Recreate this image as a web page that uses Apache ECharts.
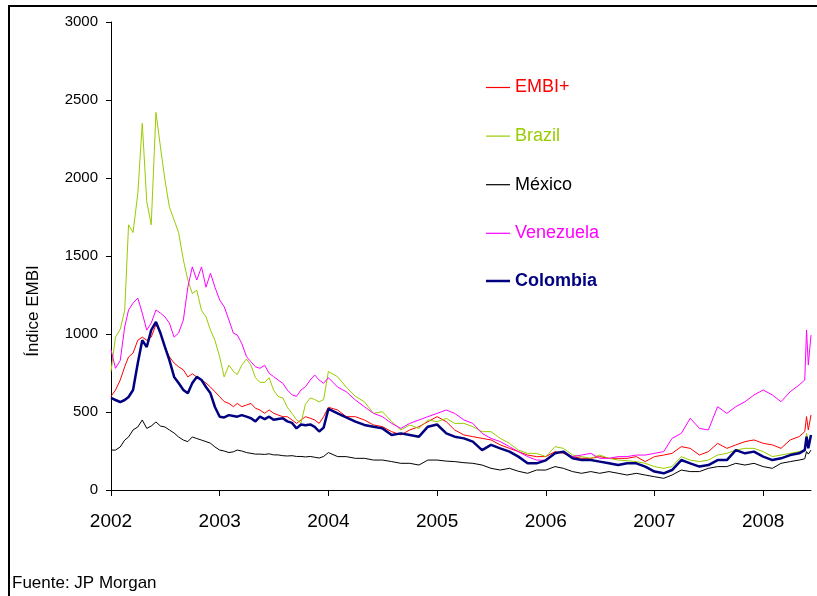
<!DOCTYPE html>
<html>
<head>
<meta charset="utf-8">
<script src="https://cdn.jsdelivr.net/npm/echarts@6/dist/echarts.min.js"></script>
<style>
html,body{margin:0;padding:0;background:#fff;}
#chart{width:817px;height:596px;}
</style>
</head>
<body>
<div id="chart"></div>
<script>
// Dates: half-monthly 2002-2003, monthly 2004-2008, extra points in mid-2008
var dates = [
"2002-01-01","2002-01-16","2002-02-01","2002-02-16","2002-03-01","2002-03-16","2002-04-01","2002-04-16","2002-05-01","2002-05-16","2002-06-01","2002-06-16",
"2002-07-01","2002-07-16","2002-08-01","2002-08-16","2002-09-01","2002-09-16","2002-10-01","2002-10-16","2002-11-01","2002-11-16","2002-12-01","2002-12-16",
"2003-01-01","2003-01-16","2003-02-01","2003-02-16","2003-03-01","2003-03-16","2003-04-01","2003-04-16","2003-05-01","2003-05-16","2003-06-01","2003-06-16",
"2003-07-01","2003-07-16","2003-08-01","2003-08-16","2003-09-01","2003-09-16","2003-10-01","2003-10-16","2003-11-01","2003-11-16","2003-12-01","2003-12-16",
"2004-01-01","2004-02-01","2004-03-01","2004-04-01","2004-05-01","2004-06-01","2004-07-01","2004-08-01","2004-09-01","2004-10-01","2004-11-01","2004-12-01",
"2005-01-01","2005-02-01","2005-03-01","2005-04-01","2005-05-01","2005-06-01","2005-07-01","2005-08-01","2005-09-01","2005-10-01","2005-11-01","2005-12-01",
"2006-01-01","2006-02-01","2006-03-01","2006-04-01","2006-05-01","2006-06-01","2006-07-01","2006-08-01","2006-09-01","2006-10-01","2006-11-01","2006-12-01",
"2007-01-01","2007-02-01","2007-03-01","2007-04-01","2007-05-01","2007-06-01","2007-07-01","2007-08-01","2007-09-01","2007-10-01","2007-11-01","2007-12-01",
"2008-01-01","2008-02-01","2008-03-01","2008-04-01","2008-05-01","2008-05-20","2008-05-26","2008-06-01","2008-06-10"
];

var embi = [
600,640,705,790,853,878,960,980,960,980,1060,1006,917,853,814,790,770,725,745,725,705,686,660,630,
598,567,555,534,555,534,545,555,524,513,492,513,492,481,470,470,449,427,449,470,460,449,427,470,
530,513,470,470,449,417,406,374,353,385,406,438,
470,438,385,353,342,331,321,289,267,246,224,214,
214,246,235,214,203,203,214,203,203,203,214,182,
214,224,235,278,267,224,246,299,267,289,310,321,
299,289,267,321,342,374,470,385,481
];

var brazil = [
760,980,1030,1150,1700,1650,1900,2350,1850,1700,2420,2200,1990,1815,1730,1650,1475,1346,1260,1280,1150,1110,1025,960,
853,725,800,760,740,800,840,800,720,690,690,720,640,600,590,530,490,450,430,550,590,580,565,580,
760,726,660,600,566,491,502,438,385,417,395,449,
438,459,427,427,406,374,374,331,299,256,235,235,
214,278,267,224,214,203,224,203,192,188,182,171,
150,139,150,214,192,182,192,224,235,256,267,267,
246,214,224,235,246,260,363,310,353
];

var mexico = [
256,256,276,320,340,385,404,449,395,410,436,410,404,385,365,340,320,310,340,330,320,310,300,276,
256,250,240,245,256,250,240,235,230,230,228,232,225,225,220,218,220,215,215,212,215,210,205,215,
240,214,214,203,203,192,192,182,171,171,160,192,
192,185,182,175,171,160,139,128,139,120,107,128,
128,150,139,118,107,118,107,118,107,96,107,96,
85,75,96,128,118,118,139,150,150,171,160,171,
150,139,171,182,192,200,246,230,256
];

var venezuela = [
900,780,830,1045,1154,1198,1230,1134,1025,1070,1154,1134,1110,1070,980,1006,1090,1300,1430,1346,1430,1300,1390,1300,
1218,1175,1090,1005,994,940,855,822,790,780,800,748,727,705,684,641,610,600,641,662,705,737,705,684,
720,660,630,577,534,491,470,427,395,427,449,470,
491,513,491,449,427,363,331,310,278,246,214,192,
190,235,246,214,224,235,203,203,214,214,224,224,
235,246,331,363,460,395,385,534,491,534,566,609,
641,609,566,630,673,705,1026,801,993
];

var colombia = [
590,577,564,577,596,641,814,960,917,1025,1077,1006,917,833,725,686,641,620,686,725,705,660,620,532,
470,465,480,475,470,480,470,460,440,470,455,470,450,455,460,440,430,395,420,415,420,405,375,400,
520,491,465,438,417,406,395,353,363,353,342,406,
420,363,342,331,310,256,289,267,246,214,171,171,
190,235,246,203,192,192,182,171,160,171,171,150,
118,107,128,192,171,150,160,192,192,256,235,246,
214,192,203,224,235,256,342,267,353
];

var seriesNames = ["EMBI+","Brazil","México","Venezuela","Colombia"];
var yearTicks = [2002,2003,2004,2005,2006,2007,2008];

function yearFrac(s){
  var p = s.split("-"), y = +p[0], m = +p[1]-1, d = +p[2];
  var t0 = Date.UTC(y,0,1), t1 = Date.UTC(y+1,0,1), t = Date.UTC(y,m,d);
  return y + (t - t0)/(t1 - t0);
}
var xs = dates.map(yearFrac);
function pairs(arr){ return arr.map(function(v,i){ return [xs[i], v]; }); }

var colors = ["#FF0000","#99CC00","#000000","#FF00FF","#000080"];
var widths = [1,1,1,1,2.5];
var datasets = [embi, brazil, mexico, venezuela, colombia];

var chart = echarts.init(document.getElementById("chart"), null, {renderer:"canvas"});
var font = "'Liberation Sans', Arial, sans-serif";

function legendItems(idx){
  return idx.map(function(i){
    return {name:seriesNames[i], textStyle:{color:colors[i], fontWeight: i===4 ? "bold":"normal"}};
  });
}

chart.setOption({
  animation:false,
  backgroundColor:"#fff",
  grid:{left:111, right:6, top:22, bottom:106, containLabel:false},
  xAxis:{
    type:"value", min:2002, max:xs[xs.length-1],
    axisLine:{show:true, lineStyle:{color:"#000", width:1}},
    axisTick:{show:true, length:6, lineStyle:{color:"#000"}, customValues:yearTicks},
    axisLabel:{show:true, customValues:yearTicks, margin:22, fontSize:19, color:"#000", fontFamily:font,
      formatter:function(v){ return String(Math.round(v)); }},
    splitLine:{show:false}
  },
  yAxis:{
    type:"value", min:0, max:3000, interval:500,
    axisLine:{show:true, lineStyle:{color:"#000", width:1}},
    axisTick:{show:true, length:5, lineStyle:{color:"#000"}},
    axisLabel:{margin:13, fontSize:15, color:"#000", fontFamily:font,
      formatter:function(v){ return String(v); }},
    splitLine:{show:false}
  },
  legend:[
    {
      orient:"vertical", left:486, top:77.5, padding:0, icon:"rect",
      itemWidth:24, itemHeight:1.2, itemGap:28.6,
      textStyle:{fontSize:18, lineHeight:20, fontFamily:font},
      data:legendItems([0,1,2,3])
    },
    {
      orient:"vertical", left:486, top:271, padding:0, icon:"rect",
      itemWidth:24, itemHeight:2.5, itemGap:28.6,
      textStyle:{fontSize:18, lineHeight:20, fontFamily:font},
      data:legendItems([4])
    }
  ],
  graphic:[
    {type:"rect", shape:{x:9, y:6, width:900, height:700}, style:{fill:"none", stroke:"#000", lineWidth:2}, silent:true},
    {type:"text", x:33, y:311, rotation:Math.PI/2, style:{text:"Índice EMBI", font:"17px "+font, fill:"#000", textAlign:"center", textVerticalAlign:"middle"}},
    {type:"text", x:12, y:583, style:{text:"Fuente: JP Morgan", font:"17px "+font, fill:"#000", textAlign:"left", textVerticalAlign:"middle"}}
  ],
  series:datasets.map(function(d,i){
    return {
      name:seriesNames[i], type:"line", data:pairs(d), showSymbol:false, symbol:"none",
      lineStyle:{color:colors[i], width:widths[i]}, itemStyle:{color:colors[i]},
      z: i===4 ? 3 : 2
    };
  })
});
</script>
</body>
</html>
